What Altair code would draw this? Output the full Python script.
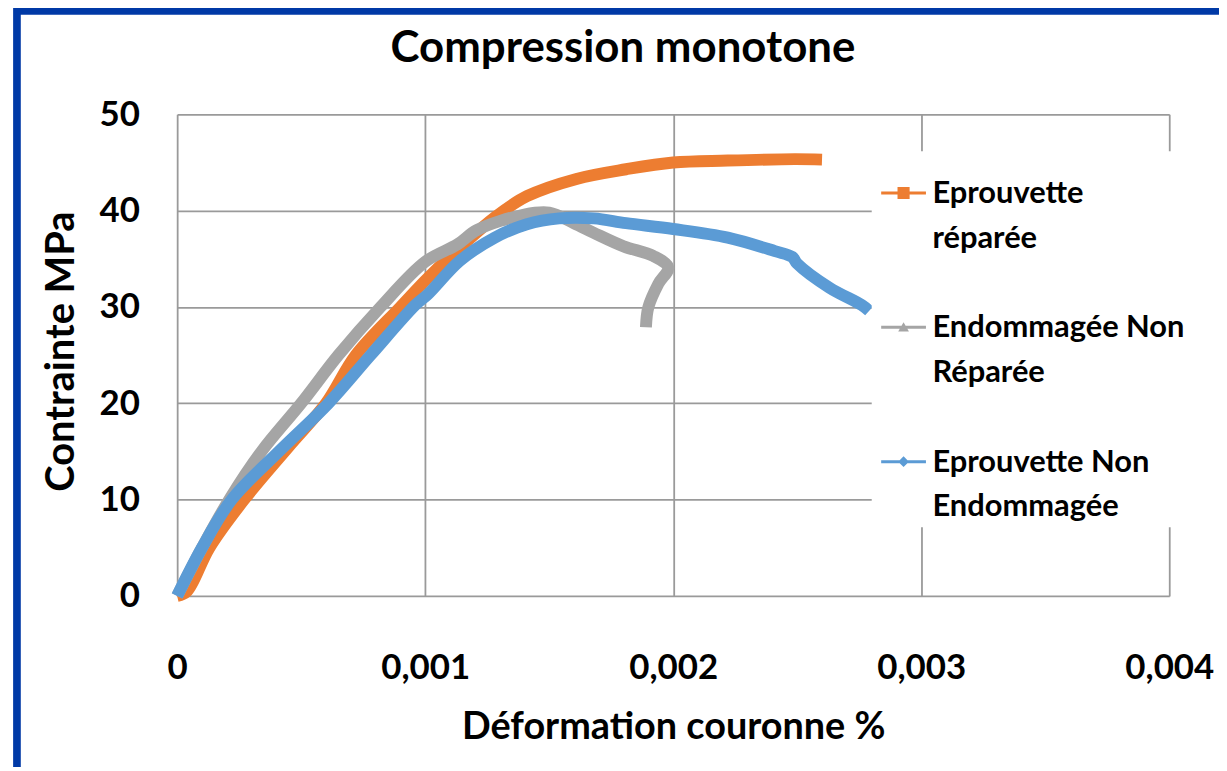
import altair as alt
import pandas as pd

# ---- data ----
series = ["Eprouvette réparée", "Endommagée Non Réparée", "Eprouvette Non Endommagée"]
legend_labels = ["Eprouvette\nréparée", "Endommagée  Non\nRéparée", "Eprouvette Non\nEndommagée"]
colors = ["#ED7D31", "#A5A5A5", "#5B9BD5"]

x_reparee = [0, 0.00004, 0.00013, 0.00027, 0.00045, 0.0006, 0.00072, 0.0009, 0.00101,
             0.00115, 0.00128, 0.00141, 0.00161, 0.00181, 0.002, 0.00222, 0.00249, 0.0026]
y_reparee = [0, 0.5, 5, 10, 15.5, 20, 25, 30, 33,
             36.4, 39.3, 41.5, 43.3, 44.3, 45.0, 45.2, 45.35, 45.3]

x_endo = [0, 0.0001, 0.00021, 0.00034, 0.0005, 0.00065, 0.00082, 0.001, 0.00113, 0.00121,
          0.0014, 0.0015, 0.0016, 0.00168, 0.0018, 0.00192, 0.00198, 0.00194, 0.0019, 0.00189]
y_endo = [0, 5, 10, 15, 20, 25, 30, 34.7, 36.5, 38.0,
          39.6, 39.8, 38.7, 37.7, 36.3, 35.3, 34.1, 32.4, 30, 27.9]

x_saine = [0, 0.0001, 0.00022, 0.00041, 0.00061, 0.00078, 0.00096, 0.00101, 0.00114, 0.00128,
           0.00141, 0.00154, 0.00168, 0.00181, 0.002, 0.00222, 0.00241, 0.00248, 0.0025,
           0.00263, 0.00276, 0.00279]
y_saine = [0, 5, 10, 15, 20, 25, 30.2, 31.3, 34.8, 37.2,
           38.6, 39.2, 39.2, 38.7, 38.1, 37.2, 35.8, 35.2, 34.5,
           32.0, 30.2, 29.6]

x_ticks = [0, 0.001, 0.002, 0.003, 0.004]
y_ticks = [0, 10, 20, 30, 40, 50]
title_text = ["Compression monotone"]

rows = []
for name, xs, ys in [(series[0], x_reparee, y_reparee),
                     (series[1], x_endo, y_endo),
                     (series[2], x_saine, y_saine)]:
    for i, (a, b) in enumerate(zip(xs, ys)):
        rows.append({"serie": name, "i": i, "def": a, "contrainte": b})
df = pd.DataFrame(rows)
leg_df = pd.DataFrame({"serie": series, "label": legend_labels})

# legend symbols: line + marker (square, triangle, diamond)
shape_paths = [
    "M-1,-0.067H1V0.067H-1ZM-0.27,-0.27H0.27V0.27H-0.27Z",
    "M-1,-0.067H1V0.067H-1ZM0,-0.22L0.24,0.19H-0.24Z",
    "M-1,-0.067H1V0.067H-1ZM0,-0.24L0.24,0L0,0.24L-0.24,0Z",
]

FONT = "Lato"

xscale = alt.Scale(domain=[0, 0.004], nice=False, zero=False)
yscale = alt.Scale(domain=[0, 50], nice=False)
leg_y = alt.Y("serie:N", scale=alt.Scale(type="point", domain=series, range=[79, 349], padding=0),
              axis=None)

x_enc = alt.X("def:Q", scale=xscale,
              axis=alt.Axis(values=x_ticks, title="Déformation couronne %",
                            labelExpr="datum.value == 0 ? '0' : replace(format(datum.value, '.3f'), '.', ',')",
                            labelPadding=55, ticks=False, domain=False,
                            titleY=143, titleBaseline="alphabetic", titleFontSize=38,
                            labelFlush=False))
y_enc = alt.Y("contrainte:Q", scale=yscale,
              axis=alt.Axis(values=y_ticks, title="Contrainte MPa",
                            labelPadding=38, ticks=False, domain=False,
                            titleX=-104, titleY=238, titleAngle=-90, titleFontSize=40,
                            titleAlign="center", titleBaseline="alphabetic"))

lines = alt.Chart(df).mark_line(strokeWidth=12, strokeCap="butt", strokeJoin="round",
                                interpolate="catmull-rom").encode(
    x=x_enc, y=y_enc,
    stroke=alt.Stroke("serie:N", scale=alt.Scale(domain=series, range=colors), legend=None),
    order=alt.Order("i:Q"),
    detail="serie:N",
)

leg_box = alt.Chart(pd.DataFrame({"k": [0]})).mark_rect(fill="white").encode(
    x=alt.value(698), x2=alt.value(1100), y=alt.value(37), y2=alt.value(415))

leg_symbols = alt.Chart(leg_df).mark_point(filled=True, opacity=1, size=2025).encode(
    x=alt.value(730),
    y=leg_y,
    color=alt.Color("serie:N", scale=alt.Scale(domain=series, range=colors), legend=None),
    shape=alt.Shape("serie:N", scale=alt.Scale(domain=series, range=shape_paths), legend=None),
)

leg_text = alt.Chart(leg_df).mark_text(
    font=FONT, fontSize=31, fontWeight="bold", color="black", align="left",
    baseline="top", dy=-14, lineBreak="\n", lineHeight=45).encode(
    x=alt.value(759), y=leg_y, text="label:N")

frame = alt.Chart(pd.DataFrame({"k": [0]})).mark_rect(
    fillOpacity=0, stroke="#0039A6", strokeWidth=7.7).encode(
    x=alt.value(-161), x2=alt.value(3000), y=alt.value(-104), y2=alt.value(3000))

title = alt.Chart(pd.DataFrame({"t": title_text})).mark_text(
    font=FONT, fontSize=44, fontWeight="bold", color="black",
    align="center", baseline="alphabetic").encode(
    text="t:N", x=alt.value(448), y=alt.value(-53))

chart = alt.layer(lines, leg_box, leg_symbols, leg_text, frame, title).resolve_scale(
    y="independent"
).properties(
    width=997, height=484,
    autosize=alt.AutoSizeParams(type="none"),
    padding={"left": 170, "top": 105, "right": 50, "bottom": 170},
).configure_view(stroke=None).configure_axis(
    gridColor="#9A9A9A", gridWidth=1.8, labelFont=FONT, labelFontSize=35,
    labelFontWeight="bold", labelColor="black", titleFont=FONT, titleFontSize=38,
    titleFontWeight="bold", titleColor="black",
)

chart.save("out.html", embed_options={"renderer": "svg", "actions": False})
